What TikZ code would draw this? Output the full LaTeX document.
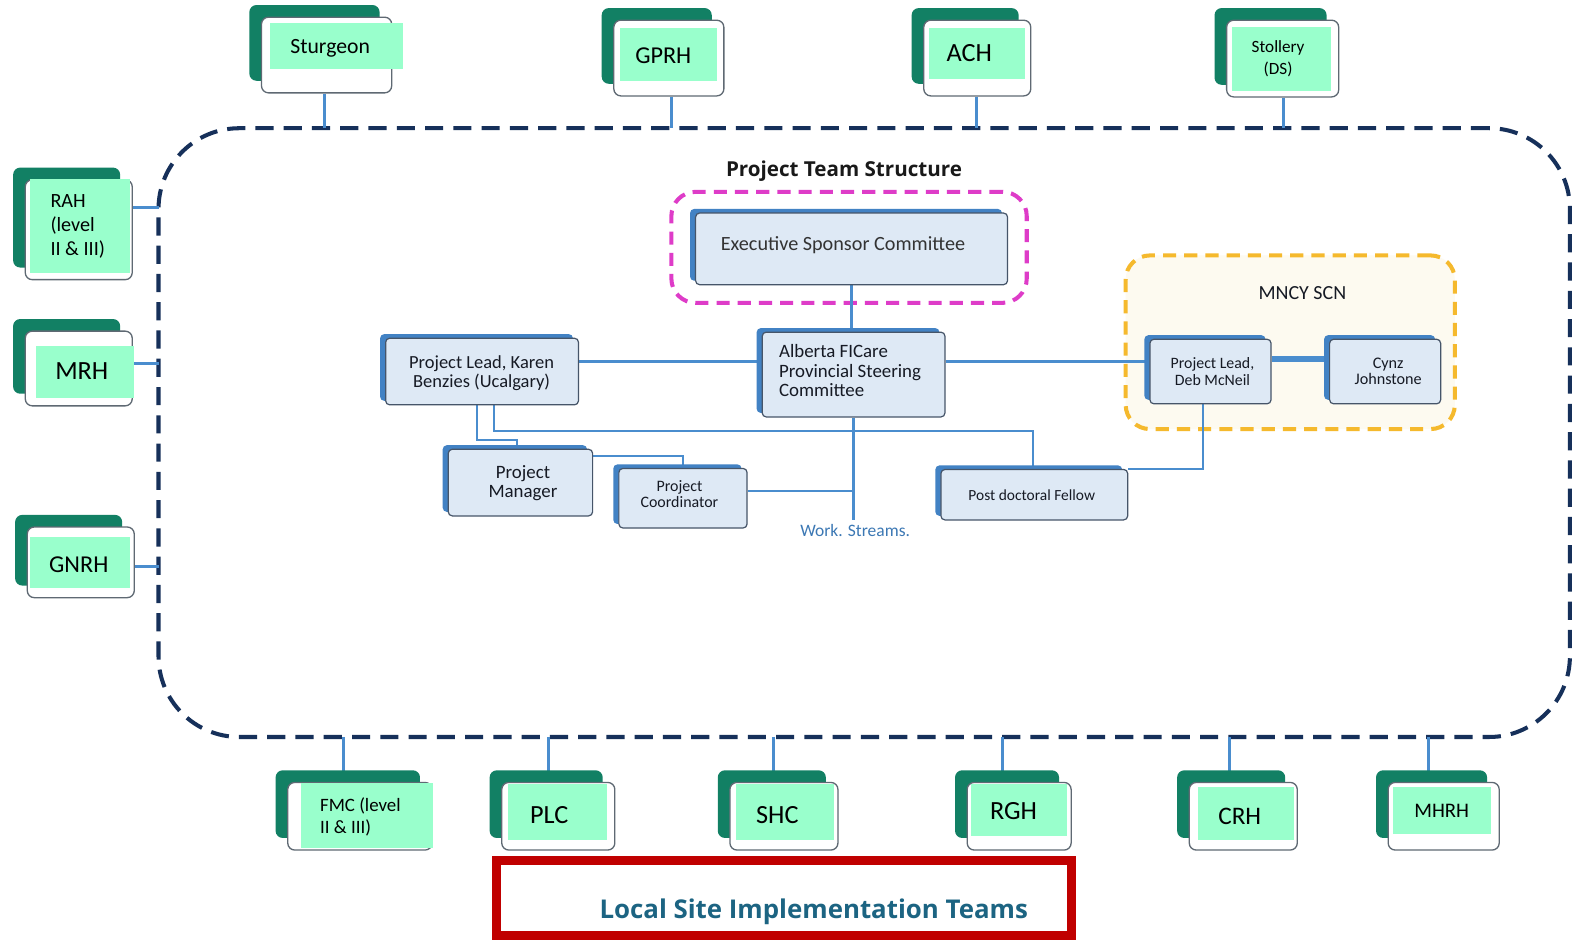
\documentclass[tikz,border=0pt]{standalone}
\usepackage{fontspec}
\setmainfont{Carlito}
\newfontfamily\osans{Open Sans}
\usetikzlibrary{fit,shadows}
\pgfdeclarelayer{bg}
\pgfdeclarelayer{frames}
\pgfdeclarelayer{lines}
\pgfsetlayers{bg,frames,lines,main}

\definecolor{sitegreen}{RGB}{18,128,100}
\definecolor{mint}{RGB}{153,255,204}
\definecolor{siteline}{RGB}{95,105,115}
\definecolor{orgfill}{RGB}{222,233,245}
\definecolor{orgblue}{RGB}{66,130,196}
\definecolor{orgline}{RGB}{70,85,105}
\definecolor{orgtext}{RGB}{22,26,36}
\definecolor{connblue}{RGB}{74,141,206}
\definecolor{magentadash}{RGB}{222,60,200}
\definecolor{orangedash}{RGB}{245,185,45}
\definecolor{cream}{RGB}{253,250,240}
\definecolor{navyframe}{RGB}{22,48,90}
\definecolor{redbox}{RGB}{192,0,0}
\definecolor{tealtext}{RGB}{28,100,130}
\definecolor{wsblue}{RGB}{60,120,180}

\tikzset{
  fs/.style={font=\fontsize{#1}{\the\dimexpr #1pt*6/5\relax}\selectfont},
  conn/.style={draw=connblue, line width=3pt},
  thinconn/.style={draw=connblue, line width=2pt},
  sitefront/.style={draw=siteline, fill=white, line width=1.3pt, rounded corners=7pt,
    inner sep=0pt, general shadow={fill=sitegreen, shadow xshift=-12pt, shadow yshift=12pt}},
  mintbox/.style={fill=mint, inner sep=0pt},
  sitetext/.style={inner sep=0pt, align=left, text=black, yshift=-1.3pt},
  orgbox/.style={draw=orgline, fill=orgfill, line width=1.2pt, rounded corners=4pt,
    inner sep=0pt, general shadow={fill=orgblue, shadow xshift=-5.5pt, shadow yshift=4pt}},
  orgtxt/.style={inner sep=0pt, align=center, text=orgtext},
  groupbox/.style={line width=4pt, dash pattern=on 13pt off 8pt, rounded corners=24pt, inner sep=0pt},
}

\begin{document}
\begin{tikzpicture}[x=1pt,y=-1pt]
\begin{pgfonlayer}{bg}
\useasboundingbox[fill=white] (0,0) rectangle (1568,931);
\end{pgfonlayer}

% ---------- site boxes ----------
\node[sitefront, fit={(259,17) (388,92)}] (stu) {};
\node[mintbox, fit={(267,23) (399,68)}] (stu-m) {};
\node[sitetext, fs=21.5] (stu-t) at (327,47) {Sturgeon};
\node[sitefront, fit={(608,20) (717,95)}] (gprh) {};
\node[mintbox, fit={(614,28) (710,80)}] (gprh-m) {};
\node[sitetext, fs=24] (gprh-t) at (657,54) {GPRH};
\node[sitefront, fit={(915,20) (1021,95)}] (ach) {};
\node[mintbox, fit={(920,28) (1015,78)}] (ach-m) {};
\node[sitetext, fs=26] (ach-t) at (960,51) {ACH};
\node[sitefront, fit={(1215,20) (1326,96)}] (sto) {};
\node[mintbox, fit={(1220,27) (1318,90)}] (sto-m) {};
\node[sitetext, font=\fontsize{17}{22}\selectfont, align=center] (sto-t) at (1266,57) {Stollery\\(DS)};

\node[sitefront, fit={(25,178) (131,277)}] (rah) {};
\node[mintbox, fit={(30,177) (129,270)}] (rah-m) {};
\node[sitetext, font=\fontsize{20}{24}\selectfont] (rah-t) at (77,223) {RAH\\(level\\II \& III)};
\node[sitefront, fit={(25,328) (131,402)}] (mrh) {};
\node[mintbox, fit={(36,343) (133,394)}] (mrh-m) {};
\node[sitetext, fs=26] (mrh-t) at (81,366) {MRH};
\node[sitefront, fit={(27,522) (133,592)}] (gnrh) {};
\node[mintbox, fit={(30,532) (129,582)}] (gnrh-m) {};
\node[sitetext, fs=24] (gnrh-t) at (78,558) {GNRH};

\node[sitefront, fit={(285,775) (428,842)}] (fmc) {};
\node[mintbox, fit={(298,776) (429,840)}] (fmc-m) {};
\node[sitetext, font=\fontsize{18.7}{22}\selectfont] (fmc-t) at (357,808) {FMC (level\\II \& III)};
\node[sitefront, fit={(497,775) (609,842)}] (plc) {};
\node[mintbox, fit={(503,777) (601,832)}] (plc-m) {};
\node[sitetext, fs=26] (plc-t) at (544,806) {PLC};
\node[sitefront, fit={(723,775) (830,842)}] (shc) {};
\node[mintbox, fit={(729,777) (826,832)}] (shc-m) {};
\node[sitetext, fs=26] (shc-t) at (770,806) {SHC};
\node[sitefront, fit={(958,775) (1061,842)}] (rgh) {};
\node[mintbox, fit={(962,777) (1057,828)}] (rgh-m) {};
\node[sitetext, fs=26] (rgh-t) at (1004,802) {RGH};
\node[sitefront, fit={(1178,775) (1285,842)}] (crh) {};
\node[mintbox, fit={(1187,780) (1282,832)}] (crh-m) {};
\node[sitetext, fs=25] (crh-t) at (1228,807) {CRH};
\node[sitefront, fit={(1375,775) (1485,842)}] (mhrh) {};
\node[mintbox, fit={(1380,780) (1477,826)}] (mhrh-m) {};
\node[sitetext, fs=20.5] (mhrh-t) at (1428,802) {MHRH};

% ---------- frames ----------
\begin{pgfonlayer}{frames}
\node[draw=navyframe, line width=4pt, dash pattern=on 18pt off 10pt, rounded corners=80pt,
      inner sep=0pt, fit={(157,127) (1555,730)}] (frame) {};
\node[groupbox, draw=magentadash, fit={(665,190) (1017,300)}] (execgrp) {};
\node[groupbox, draw=orangedash, fill=cream, fit={(1115,253) (1441,425)}] (mncy) {};
\end{pgfonlayer}

% ---------- titles ----------
\node[font=\osans\bfseries\fontsize{20.4}{24}\selectfont, text=black!90] (title) at (836,170) {Project Team Structure};
\node[fs=19.8, text=orgtext] (mncylbl) at (1290,290) {MNCY SCN};
\node[fs=17.3, text=wsblue] (ws) at (847,525) {Work. Streams.};

% ---------- org boxes ----------
\node[orgbox, fit={(689,211) (998,282)}] (exec) {};
\node[orgtxt, fs=20, text=black!80] (exec-t) at (835,243) {Executive Sponsor Committee};
\node[orgbox, fit={(755,329) (936,413)}] (alberta) {};
\node[orgtxt, font=\fontsize{18.7}{19}\selectfont, align=left] (alberta-t) at (842,367) {Alberta FICare\\Provincial Steering\\Committee};
\node[orgbox, fit={(382,335) (573,401)}] (karen) {};
\node[orgtxt, font=\fontsize{18.3}{19}\selectfont] (karen-t) at (477,369.5) {Project Lead, Karen\\Benzies (Ucalgary)};
\node[orgbox, fit={(444,445) (587,511)}] (pm) {};
\node[orgtxt, font=\fontsize{18.7}{19}\selectfont] (pm-t) at (518,478.5) {Project\\Manager};
\node[orgbox, fit={(613,464) (740,523)}] (coord) {};
\node[orgtxt, font=\fontsize{15.8}{16}\selectfont] (coord-t) at (673,489) {Project\\Coordinator};
\node[orgbox, fit={(932,465) (1117,515)}] (postdoc) {};
\node[orgtxt, fs=15.3] (postdoc-t) at (1022,490) {Post doctoral Fellow};
\node[orgbox, fit={(1139,336) (1259,400)}] (deb) {};
\node[orgtxt, font=\fontsize{15.7}{16}\selectfont] (deb-t) at (1201,368) {Project Lead,\\Deb McNeil};
\node[orgbox, fit={(1317,336) (1427,400)}] (cynz) {};
\node[orgtxt, font=\fontsize{16}{16}\selectfont] (cynz-t) at (1375,368) {Cynz\\Johnstone};

% ---------- bottom label ----------
\node[draw=redbox, line width=9pt, inner sep=0pt, fit={(492,852) (1061,927)}] (redframe) {};
\node[font=\osans\bfseries\fontsize{25.6}{30}\selectfont, text=tealtext] (lsit) at (806,903) {Local Site Implementation Teams};

% ---------- connectors ----------
\begin{pgfonlayer}{lines}
\coordinate (c-stu) at (321,127);
\coordinate (c-gprh) at (665,127);
\coordinate (c-ach) at (967,127);
\coordinate (c-sto) at (1271,127);
\coordinate (c-rah) at (157,206);
\coordinate (c-mrh) at (157,360);
\coordinate (c-gnrh) at (157,561);
\coordinate (c-fmc) at (340,730);
\coordinate (c-plc) at (543,730);
\coordinate (c-shc) at (766,730);
\coordinate (c-rgh) at (993,730);
\coordinate (c-crh) at (1218,730);
\coordinate (c-mhrh) at (1415,730);
\foreach \s in {stu,gprh,ach,sto}{\draw[conn] (c-\s |- \s.south) -- (c-\s);}
\foreach \s in {rah,mrh,gnrh}{\draw[conn] (\s.east |- c-\s) -- (c-\s);}
\foreach \s in {fmc,plc,shc,rgh,crh,mhrh}{\draw[conn] (c-\s) -- (c-\s |- \s.north);}
\coordinate (hl) at (0,358);
\draw[conn] (exec.south) -- (exec.south |- alberta.north);
\draw[conn] (karen.east |- hl) -- (alberta.west |- hl);
\draw[conn] (alberta.east |- hl) -- (deb.west |- hl);
\draw[draw=connblue, line width=6pt] (deb.east |- 0,356) -- (cynz.west |- 0,356);
\draw[thinconn] (karen.south -| 472,0) |- (512,436) -- (pm.north -| 512,0);
\draw[thinconn] (karen.south -| 489,0) |- (1023,427) -- (postdoc.north -| 1023,0);
\draw[thinconn] (pm.east |- 0,452) -| (coord.north -| 677,0);
\draw[conn] (alberta.south) -- (alberta.south |- ws.north);
\draw[thinconn] (coord.east |- 0,486) -- (alberta.south |- 0,486);
\draw[thinconn] (deb.south -| 1192,0) |- (postdoc.north east);
\end{pgfonlayer}
\end{tikzpicture}
\end{document}
